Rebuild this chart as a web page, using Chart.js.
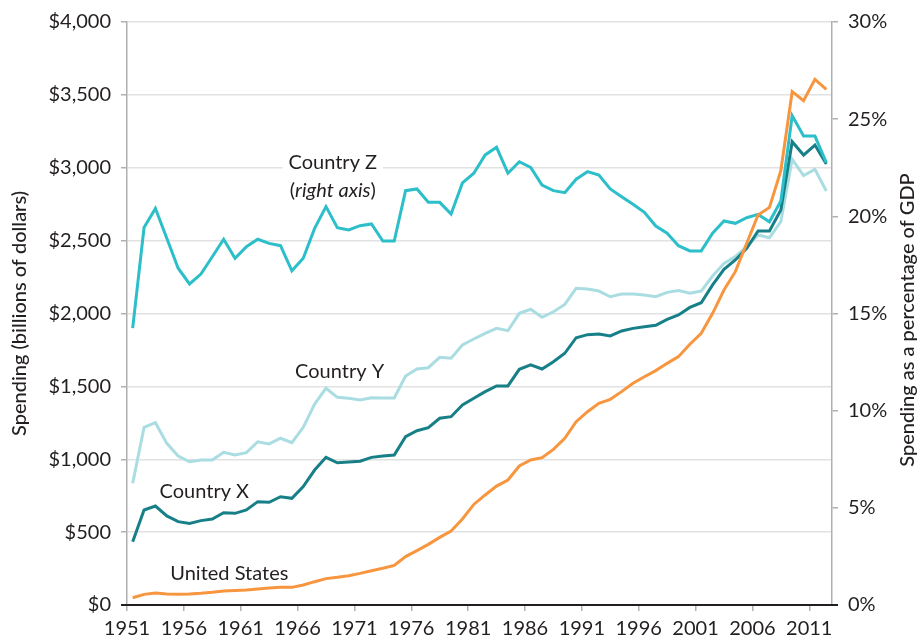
<!DOCTYPE html>
<html>
<head>
<meta charset="utf-8">
<script src="https://cdn.jsdelivr.net/npm/chart.js@4.4.1/dist/chart.umd.min.js"></script>
<style>
  html, body { margin: 0; padding: 0; background: #fff; }
  #wrap { width: 922px; height: 643px; }
</style>
</head>
<body>
<div id="wrap"><canvas id="chart" width="922" height="643"></canvas></div>
<script>
const years = [1951, 1952, 1953, 1954, 1955, 1956, 1957, 1958, 1959, 1960,
  1961, 1962, 1963, 1964, 1965, 1966, 1967, 1968, 1969, 1970,
  1971, 1972, 1973, 1974, 1975, 1976, 1977, 1978, 1979, 1980,
  1981, 1982, 1983, 1984, 1985, 1986, 1987, 1988, 1989, 1990,
  1991, 1992, 1993, 1994, 1995, 1996, 1997, 1998, 1999, 2000,
  2001, 2002, 2003, 2004, 2005, 2006, 2007, 2008, 2009, 2010,
  2011, 2012];

// billions of dollars (left axis)
const unitedStates = [50, 73, 82, 75, 73, 75, 80, 87, 96, 100,
  103, 110, 117, 121, 121, 137, 160, 181, 190, 201,
  217, 235, 252, 272, 332, 373, 416, 464, 508, 590,
  690, 755, 816, 858, 954, 995, 1011, 1068, 1144, 1258,
  1326, 1384, 1411, 1464, 1521, 1566, 1608, 1658, 1704, 1789,
  1864, 2001, 2161, 2287, 2482, 2676, 2728, 2980, 3522, 3460,
  3607, 3538];

const countryX = [434, 652, 679, 611, 572, 560, 579, 590, 633, 629,
  652, 709, 705, 743, 732, 812, 926, 1013, 976, 981,
  986, 1013, 1022, 1029, 1155, 1196, 1217, 1281, 1292, 1372,
  1418, 1464, 1503, 1503, 1617, 1647, 1619, 1669, 1727, 1834,
  1855, 1859, 1846, 1880, 1898, 1909, 1919, 1960, 1990, 2042,
  2074, 2196, 2303, 2367, 2447, 2566, 2566, 2710, 3179, 3087,
  3156, 3026];

const countryY = [835, 1219, 1251, 1109, 1022, 983, 995, 995, 1048, 1029,
  1045, 1120, 1105, 1144, 1114, 1219, 1379, 1487, 1425, 1418,
  1407, 1422, 1420, 1420, 1571, 1619, 1628, 1699, 1693, 1784,
  1825, 1864, 1898, 1882, 2001, 2029, 1974, 2012, 2062, 2173,
  2168, 2154, 2115, 2134, 2134, 2127, 2115, 2145, 2157, 2139,
  2154, 2257, 2344, 2390, 2458, 2539, 2520, 2630, 3058, 2946,
  2989, 2840];

// percent of GDP (right axis)
const countryZ = [14.25, 19.42, 20.41, 18.87, 17.33, 16.52, 17.03, 17.92, 18.82, 17.84,
  18.44, 18.82, 18.61, 18.49, 17.20, 17.84, 19.38, 20.50, 19.42, 19.30,
  19.52, 19.61, 18.73, 18.73, 21.32, 21.41, 20.72, 20.72, 20.12, 21.72,
  22.22, 23.16, 23.55, 22.22, 22.81, 22.52, 21.61, 21.32, 21.22, 21.91,
  22.30, 22.13, 21.41, 21.01, 20.62, 20.21, 19.50, 19.13, 18.49, 18.22,
  18.22, 19.13, 19.76, 19.64, 19.93, 20.10, 19.72, 20.79, 25.18, 24.13,
  24.13, 22.76];

const xTicks = [1951, 1956, 1961, 1966, 1971, 1976, 1981, 1986, 1991, 1996, 2001, 2006, 2011];

// series labels, anchored in data units (year, left-axis dollars)
const seriesLabels = [
  { lines: [['Country Z', false]], year: 1969.1, value: 3039 },
  { lines: [['(', false], ['right axis', true], [')', false]], year: 1969.1, value: 2847 },
  { lines: [['Country Y', false]], year: 1969.7, value: 1599 },
  { lines: [['Country X', false]], year: 1957.8, value: 775 },
  { lines: [['United States', false]], year: 1960.0, value: 213 }
];

const FONT = 'Lato, "Open Sans", sans-serif';
const TEXT = '#231f20';
const TICK_SIZE = 20;

const toPoints = (vals) => vals.map((v, i) => ({ x: years[i] + 0.5, y: v }));

const labelPlugin = {
  id: 'seriesLabels',
  afterDatasetsDraw(chart) {
    const { ctx, scales } = chart;
    ctx.save();
    ctx.textBaseline = 'middle';
    ctx.fillStyle = TEXT;
    seriesLabels.forEach((lab, idx) => {
      const cx = scales.x.getPixelForValue(lab.year);
      const cy = scales.y.getPixelForValue(lab.value);
      let total = 0;
      const parts = lab.lines.map(([t, it]) => {
        ctx.font = (it ? 'italic ' : '') + '20px ' + FONT;
        const w = ctx.measureText(t).width;
        total += w;
        return { t, it, w };
      });
      if (idx <= 1) {
        ctx.fillStyle = '#fff';
        ctx.fillRect(cx - total / 2 - 6, cy - 14, total + 12, 28);
        ctx.fillStyle = TEXT;
      }
      let x = cx - total / 2;
      ctx.textAlign = 'left';
      parts.forEach(p => {
        ctx.font = (p.it ? 'italic ' : '') + '20px ' + FONT;
        ctx.fillText(p.t, x, cy);
        x += p.w;
      });
    });

    // x axis line runs a little past the plot on both sides
    const a = chart.chartArea;
    ctx.strokeStyle = '#231f20';
    ctx.lineWidth = 2;
    ctx.beginPath();
    ctx.moveTo(a.left - 6, a.bottom);
    ctx.lineTo(a.right + 6, a.bottom);
    ctx.stroke();

    // right axis title reads bottom-to-top
    ctx.translate(908, 320);
    ctx.rotate(-Math.PI / 2);
    ctx.textAlign = 'center';
    ctx.font = '500 20px ' + FONT;
    ctx.fillText('Spending as a percentage of GDP', 0, 0);
    ctx.restore();
  }
};

new Chart(document.getElementById('chart').getContext('2d'), {
  type: 'line',
  data: {
    datasets: [
      { label: 'United States', data: toPoints(unitedStates), borderColor: '#f7963f', yAxisID: 'y' },
      { label: 'Country Z', data: toPoints(countryZ), borderColor: '#2cbec9', yAxisID: 'y1' },
      { label: 'Country X', data: toPoints(countryX), borderColor: '#177f88', yAxisID: 'y' },
      { label: 'Country Y', data: toPoints(countryY), borderColor: '#a9dde2', yAxisID: 'y' }
    ]
  },
  options: {
    responsive: false,
    animation: false,
    layout: { padding: { top: 22, left: 0, right: 0, bottom: 0 } },
    elements: {
      point: { radius: 0 },
      line: { borderWidth: 3, tension: 0, borderJoinStyle: 'miter', borderCapStyle: 'butt' }
    },
    plugins: { legend: { display: false }, tooltip: { enabled: false } },
    scales: {
      x: {
        type: 'linear',
        min: 1951,
        max: 2013,
        afterBuildTicks: (s) => { s.ticks = xTicks.map(v => ({ value: v })); },
        afterFit: (s) => { s.height = 38; },
        grid: { drawOnChartArea: false, tickLength: 6, tickColor: '#b0b0b0', lineWidth: 1.5 },
        border: { display: false },
        ticks: {
          autoSkip: false, maxRotation: 0, padding: 6, color: TEXT,
          font: { family: FONT, size: TICK_SIZE },
          callback: (v) => String(v)
        }
      },
      y: {
        position: 'left',
        min: 0,
        max: 4000,
        afterFit: (s) => { s.width = 127; },
        grid: { color: '#e2e2e2', lineWidth: 1.5, tickLength: 6, tickColor: '#b0b0b0' },
        border: { color: '#b0b0b0', width: 1.5 },
        ticks: {
          stepSize: 500, padding: 10, color: TEXT,
          font: { family: FONT, size: TICK_SIZE },
          callback: (v) => '$' + v.toLocaleString('en-US')
        },
        title: {
          display: true, text: 'Spending (billions of dollars)', color: TEXT,
          font: { family: FONT, size: 20, weight: '500' },
          padding: { top: 8, bottom: 0 }
        }
      },
      y1: {
        position: 'right',
        min: 0,
        max: 30,
        afterFit: (s) => { s.width = 90; },
        grid: { drawOnChartArea: false, tickLength: 6, tickColor: '#b0b0b0', lineWidth: 1.5 },
        border: { color: '#b0b0b0', width: 1.5 },
        ticks: {
          stepSize: 5, padding: 10, color: TEXT,
          font: { family: FONT, size: TICK_SIZE },
          callback: (v) => v + '%'
        }
      }
    }
  },
  plugins: [labelPlugin]
});
</script>
</body>
</html>
